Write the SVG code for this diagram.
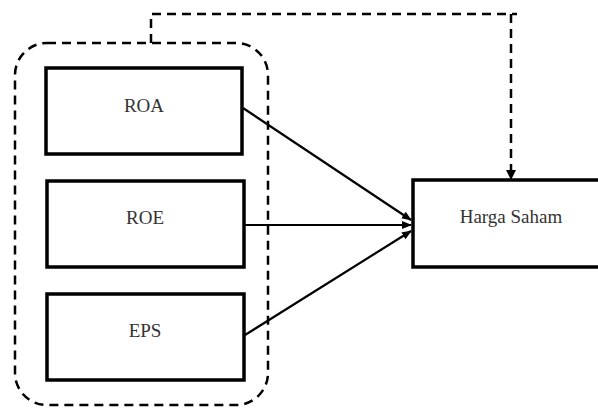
<svg xmlns="http://www.w3.org/2000/svg" width="598" height="408" viewBox="0 0 598 408">
<style>
.box{fill:#fff;stroke:#000;stroke-width:3.5}
.lbl{font-family:"Liberation Serif",serif;font-size:19px;fill:#333;text-anchor:middle;dominant-baseline:central}
.dash{fill:none;stroke:#000;stroke-width:2.5;stroke-dasharray:9,6}
.arr{fill:none;stroke:#000;stroke-width:2.2}
</style>
<defs>
<marker id="ah" markerWidth="10" markerHeight="10" refX="9" refY="5" orient="auto" markerUnits="userSpaceOnUse">
<path d="M0,1 L10,5 L0,9 Z" fill="#000"/>
</marker>
</defs>
<g id="group">
<rect class="dash" x="15" y="43" width="253" height="362" rx="32" ry="32"/>
</g>
<g id="roa"><rect class="box" x="46" y="68" width="196" height="86"/><text class="lbl" x="144" y="105">ROA</text></g>
<g id="roe"><rect class="box" x="47" y="181" width="197" height="86"/><text class="lbl" x="145" y="217">ROE</text></g>
<g id="eps"><rect class="box" x="47" y="294" width="197" height="86"/><text class="lbl" x="145" y="330">EPS</text></g>
<g id="harga"><rect class="box" x="413" y="180" width="190" height="87"/><text class="lbl" x="511" y="216">Harga Saham</text></g>
<g id="connectors">
<line class="arr" x1="243" y1="108" x2="411" y2="220" marker-end="url(#ah)"/>
<line class="arr" x1="245" y1="225" x2="411" y2="225" marker-end="url(#ah)"/>
<line class="arr" x1="245" y1="335" x2="411" y2="231" marker-end="url(#ah)"/>
<path class="dash" d="M151,43 V14 H517 M511,14 V172"/>
<path d="M506,170 L516,170 L511,180 Z" fill="#000"/>
</g>
</svg>
